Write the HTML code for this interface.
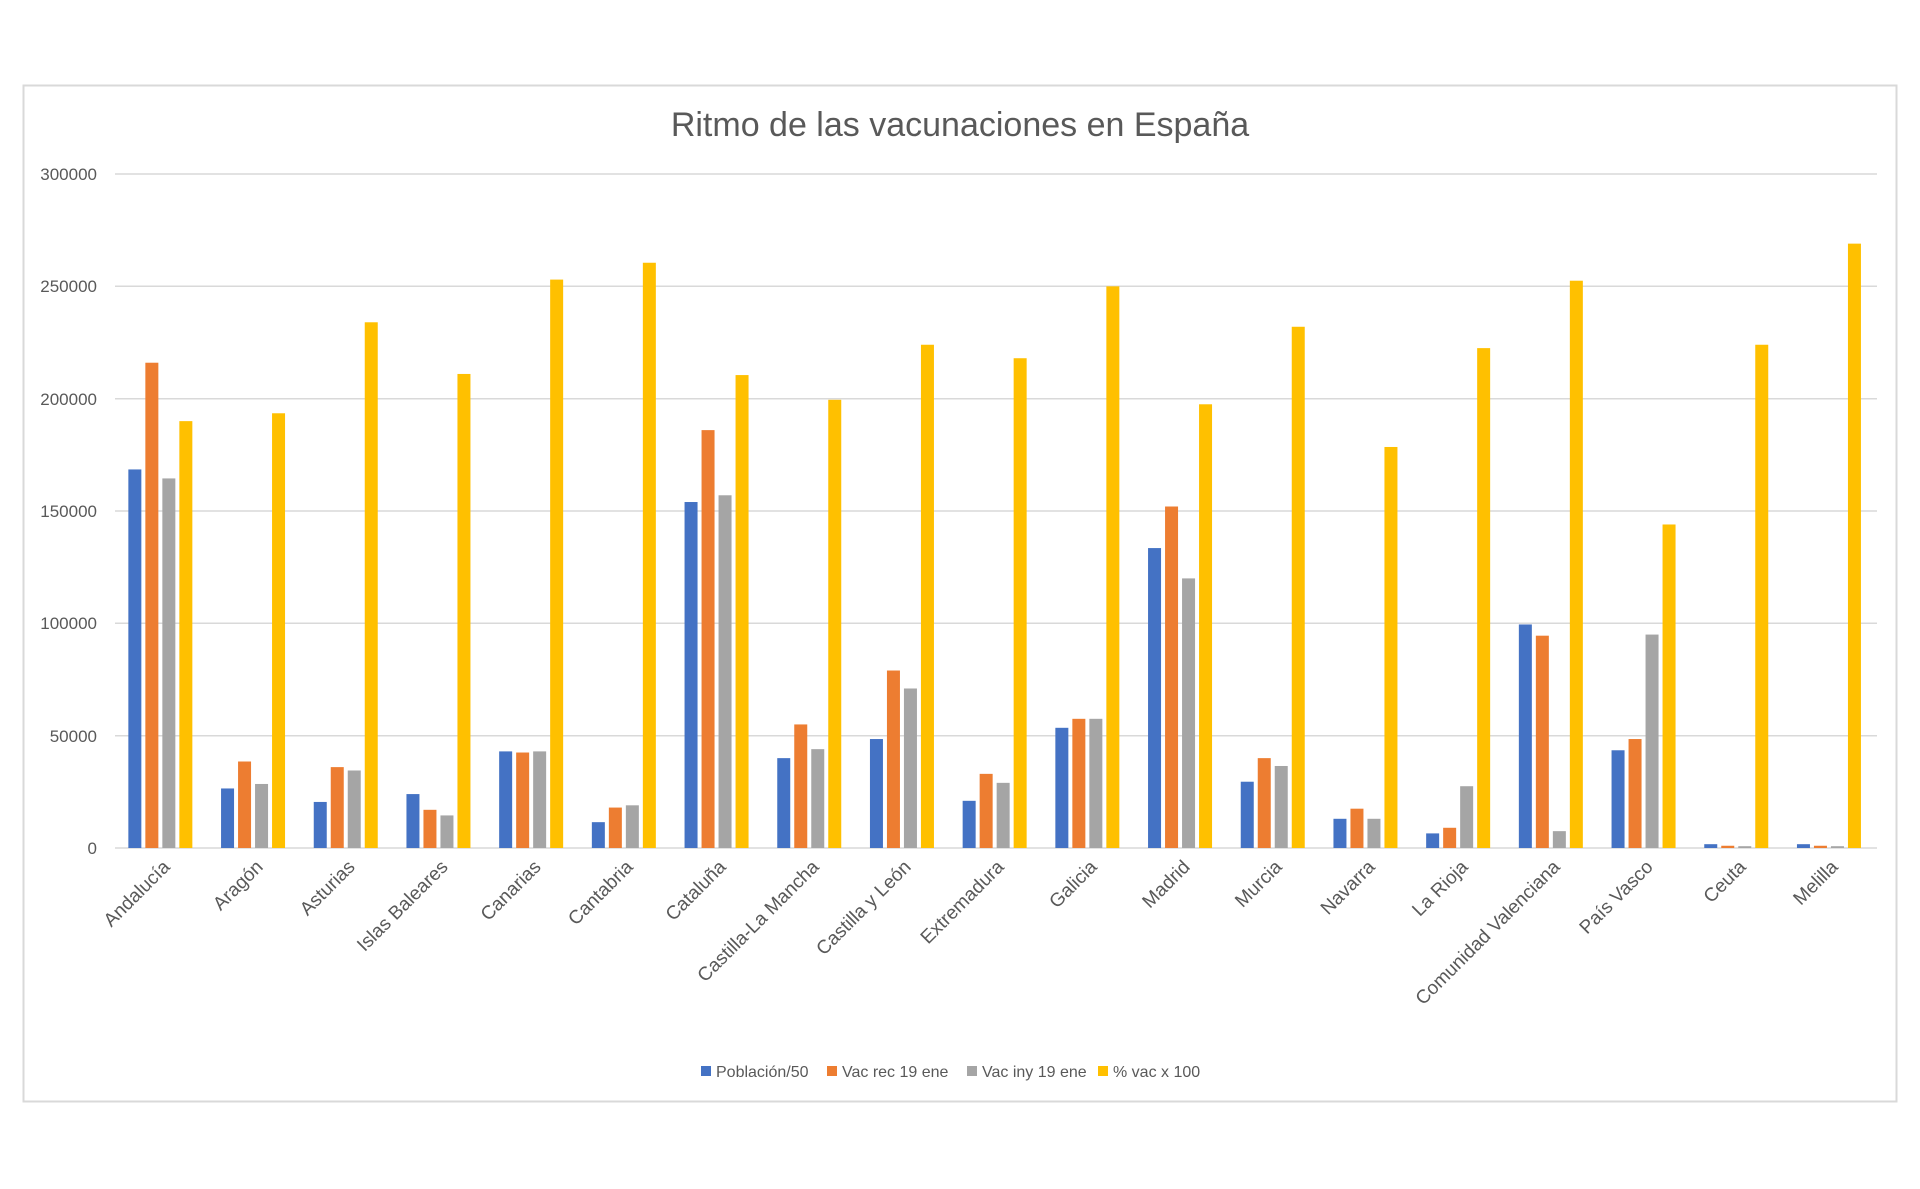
<!DOCTYPE html>
<html><head><meta charset="utf-8"><style>
html,body{margin:0;padding:0;background:#fff;}
svg{display:block;font-family:"Liberation Sans",sans-serif;}
</style></head><body>
<svg id="c" width="1920" height="1189" viewBox="0 0 1920 1189" xmlns="http://www.w3.org/2000/svg">
<rect x="0" y="0" width="1920" height="1189" fill="#fff"/>
<rect x="23.5" y="85.5" width="1873" height="1016" fill="#fff" stroke="#d9d9d9" stroke-width="2"/>
<text x="960" y="136" text-anchor="middle" font-size="34" fill="#595959">Ritmo de las vacunaciones en España</text>
<g stroke="#d9d9d9" stroke-width="1.5">
<line x1="115" x2="1877" y1="174" y2="174"/>
<line x1="115" x2="1877" y1="286.3" y2="286.3"/>
<line x1="115" x2="1877" y1="398.7" y2="398.7"/>
<line x1="115" x2="1877" y1="511" y2="511"/>
<line x1="115" x2="1877" y1="623.3" y2="623.3"/>
<line x1="115" x2="1877" y1="735.7" y2="735.7"/>
<line x1="115" x2="1877" y1="848" y2="848"/>
</g>
<g font-size="17" fill="#595959" text-anchor="end">
<text x="97" y="180">300000</text>
<text x="97" y="292">250000</text>
<text x="97" y="405">200000</text>
<text x="97" y="517">150000</text>
<text x="97" y="629">100000</text>
<text x="97" y="742">50000</text>
<text x="97" y="854">0</text>
</g>
<g id="bars"></g>
<g font-size="19" fill="#595959" text-anchor="end" id="labels">
<text transform="translate(171,868) rotate(-45)">Andalucía</text>
<text transform="translate(264,868) rotate(-45)">Aragón</text>
<text transform="translate(356,868) rotate(-45)">Asturias</text>
<text transform="translate(449,868) rotate(-45)">Islas Baleares</text>
<text transform="translate(542,868) rotate(-45)">Canarias</text>
<text transform="translate(634,868) rotate(-45)">Cantabria</text>
<text transform="translate(727,868) rotate(-45)">Cataluña</text>
<text transform="translate(820,868) rotate(-45)">Castilla-La Mancha</text>
<text transform="translate(912,868) rotate(-45)">Castilla y León</text>
<text transform="translate(1005,868) rotate(-45)">Extremadura</text>
<text transform="translate(1098,868) rotate(-45)">Galicia</text>
<text transform="translate(1191,868) rotate(-45)">Madrid</text>
<text transform="translate(1283,868) rotate(-45)">Murcia</text>
<text transform="translate(1376,868) rotate(-45)">Navarra</text>
<text transform="translate(1469,868) rotate(-45)">La Rioja</text>
<text transform="translate(1561,868) rotate(-45)">Comunidad Valenciana</text>
<text transform="translate(1654,868) rotate(-45)">País Vasco</text>
<text transform="translate(1747,868) rotate(-45)">Ceuta</text>
<text transform="translate(1839,868) rotate(-45)">Melilla</text>
</g>
<g font-size="16" fill="#595959">
<rect x="701" y="1066" width="10" height="10" fill="#4472c4"/><text x="716" y="1077">Población/50</text>
<rect x="827" y="1066" width="10" height="10" fill="#ed7d31"/><text x="842" y="1077">Vac rec 19 ene</text>
<rect x="967" y="1066" width="10" height="10" fill="#a5a5a5"/><text x="982" y="1077">Vac iny 19 ene</text>
<rect x="1098" y="1066" width="10" height="10" fill="#ffc000"/><text x="1113" y="1077">% vac x 100</text>
</g>
</svg>
<script>
var d=[[168500,216000,164500,190000],[26500,38500,28500,193500],[20500,36000,34500,234000],[24000,17000,14500,211000],[43000,42500,43000,253000],[11500,18000,19000,260500],[154000,186000,157000,210500],[40000,55000,44000,199500],[48500,79000,71000,224000],[21000,33000,29000,218000],[53500,57500,57500,250000],[133500,152000,120000,197500],[29500,40000,36500,232000],[13000,17500,13000,178500],[6500,9000,27500,222500],[99500,94500,7500,252500],[43500,48500,95000,144000],[1700,1000,800,224000],[1700,1000,800,269000]];
var col=["#4472c4","#ed7d31","#a5a5a5","#ffc000"];
var g=document.getElementById("bars"),ns="http://www.w3.org/2000/svg";
for(var i=0;i<d.length;i++){var cx=115+92.7*(i+0.5);
for(var k=0;k<4;k++){var h=d[i][k]*674/300000;var r=document.createElementNS(ns,"rect");
r.setAttribute("x",cx-33+k*17);r.setAttribute("y",848-h);r.setAttribute("width",13);r.setAttribute("height",h);r.setAttribute("fill",col[k]);g.appendChild(r);}}
</script>
</body></html>
